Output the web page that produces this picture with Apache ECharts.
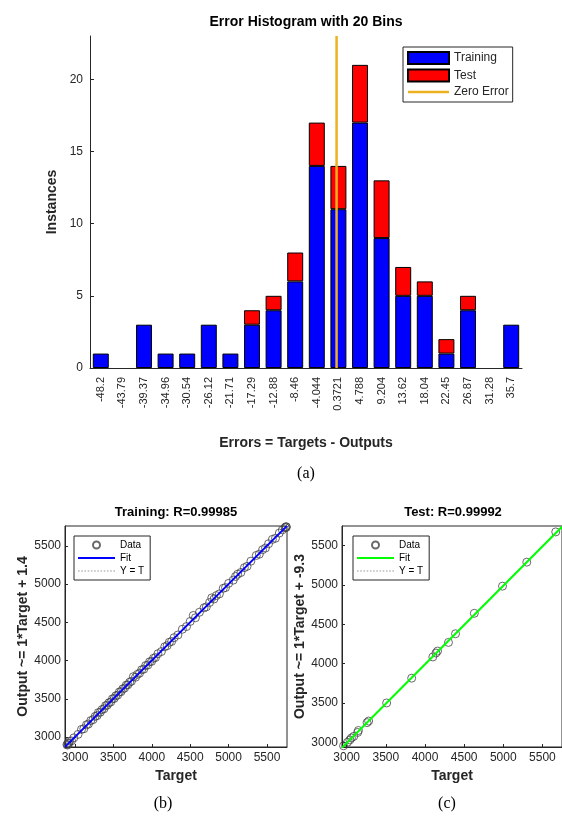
<!DOCTYPE html>
<html>
<head>
<meta charset="utf-8">
<script src="https://cdn.jsdelivr.net/npm/echarts@6/dist/echarts.min.js"></script>
<style>
  html, body { margin: 0; padding: 0; background: #fff; }
  #chart { width: 562px; height: 817px; }
</style>
</head>
<body>
<div id="chart"></div>
<script>
// histogram bins (bin centres are also the tick labels)
const binCenters = ['-48.2', '-43.79', '-39.37', '-34.96', '-30.54', '-26.12', '-21.71', '-17.29', '-12.88', '-8.46',
  '-4.044', '0.3721', '4.788', '9.204', '13.62', '18.04', '22.45', '26.87', '31.28', '35.7'];
const trainingCounts = [1, 0, 3, 1, 1, 3, 1, 3, 4, 6, 14, 11, 17, 9, 5, 5, 1, 4, 0, 3];
const testCounts     = [0, 0, 0, 0, 0, 0, 0, 1, 1, 2, 3, 3, 4, 4, 2, 1, 1, 1, 0, 0];
const zeroError = 0;
const histMax = 23;

// regression: training
const trainTarget = [2895, 2903, 2910, 2918, 2930, 2955, 2985, 3040, 3085, 3115, 3150, 3175, 3205, 3235, 3262, 3288,
  3305, 3330, 3352, 3378, 3398, 3420, 3442, 3465, 3488, 3510, 3532, 3555, 3578, 3600, 3622, 3645, 3668, 3688, 3712,
  3735, 3760, 3788, 3812, 3840, 3868, 3895, 3920, 3948, 3972, 3998, 4022, 4048, 4080, 4125, 4168, 4200, 4228, 4258,
  4290, 4340, 4398, 4452, 4500, 4540, 4568, 4620, 4680, 4710, 4752, 4780, 4810, 4840, 4880, 4930, 4960, 5000, 5060,
  5090, 5118, 5160, 5205, 5240, 5290, 5360, 5400, 5442, 5480, 5520, 5570, 5610, 5660, 5700, 5735, 5742, 5748, 5752];
const trainOutput = [2902, 2895, 2921, 2914, 2945, 2950, 2990, 3035, 3100, 3108, 3160, 3170, 3215, 3228, 3270, 3280,
  3320, 3325, 3360, 3370, 3410, 3418, 3450, 3458, 3500, 3505, 3540, 3548, 3590, 3594, 3630, 3640, 3680, 3683, 3718,
  3730, 3790, 3782, 3820, 3835, 3880, 3888, 3935, 3942, 3985, 3990, 4030, 4040, 4090, 4118, 4180, 4195, 4240, 4250,
  4300, 4335, 4410, 4445, 4512, 4590, 4560, 4632, 4690, 4702, 4760, 4820, 4805, 4850, 4872, 4945, 4955, 5010, 5052,
  5100, 5130, 5152, 5215, 5232, 5300, 5375, 5392, 5450, 5472, 5528, 5585, 5600, 5668, 5710, 5740, 5738, 5752, 5745];
const trainFit = [1, 1.4];         // slope, intercept
const trainLim = [2870, 5760];

// regression: test
const testTarget = [2960, 3010, 3040, 3060, 3090, 3140, 3150, 3260, 3280, 3510, 3830, 4100, 4140, 4160, 4300, 4390,
  4630, 4990, 5300, 5670];
const testOutput = [2955, 3000, 3030, 3055, 3075, 3125, 3150, 3250, 3270, 3500, 3815, 4085, 4135, 4160, 4270, 4380,
  4640, 4985, 5290, 5675];
const testFit = [1, -9.3];
const testLim = [2940, 5750];

const FONT = 'Liberation Sans, Arial, sans-serif';
const SERIF = '16px Liberation Serif, Times New Roman, serif';
const AXIS_COLOR = '#262626';

function pairs(xs, ys) {
  return xs.map((x, i) => [x, ys[i]]);
}
function fitLine(lim, fit) {
  return lim.map(x => [x, fit[0] * x + fit[1]]);
}
// empty bins are left out so no flat bar outline is drawn
function skipEmpty(counts) {
  return counts.map(v => (v === 0 ? '-' : v));
}
// legend icons drawn as flat paths (solid and dotted strokes)
function solidIcon(w, h) {
  return 'path://M0,0H' + w + 'V' + h + 'H0Z';
}
function dottedIcon(w) {
  let p = 'path://';
  for (let i = 0; i + 1.5 <= w; i += 3) {
    p += 'M' + i + ',0H' + (i + 1.5) + 'V1H' + i + 'Z';
  }
  return p;
}

// half bin width, so the zero line sits on a value axis aligned with the bins
const c0 = parseFloat(binCenters[0]);
const cN = parseFloat(binCenters[binCenters.length - 1]);
const halfBin = (cN - c0) / (binCenters.length - 1) / 2;

function regAxis(lim, name, gridIndex, isY, gap) {
  return {
    type: 'value',
    gridIndex: gridIndex,
    min: lim[0],
    max: lim[1],
    splitNumber: 6,
    name: name,
    nameLocation: 'middle',
    nameGap: gap,
    nameTextStyle: { fontFamily: FONT, fontWeight: 'bold', fontSize: 14, color: AXIS_COLOR },
    axisLine: { onZero: false, lineStyle: { color: AXIS_COLOR } },
    axisTick: { inside: true, length: 3, lineStyle: { color: AXIS_COLOR } },
    axisLabel: { fontFamily: FONT, fontSize: 12, color: AXIS_COLOR, margin: isY ? 4 : 5,
      showMinLabel: false, showMaxLabel: false, formatter: v => String(v) },
    splitLine: { show: false }
  };
}

function regLegend(left, names) {
  return {
    left: left, top: 536,
    orient: 'vertical',
    data: [
      { name: names[0], icon: 'circle' },
      { name: names[1], icon: solidIcon(37, 2) },
      { name: names[2], icon: dottedIcon(37) }
    ],
    formatter: n => n.split('_')[0],
    itemWidth: 37, itemHeight: 7, itemGap: 3,
    padding: [4, 6, 4, 4],
    borderColor: AXIS_COLOR, borderWidth: 1, backgroundColor: '#fff',
    textStyle: { fontFamily: FONT, fontSize: 10, color: '#000' }
  };
}

function titleText(x, y, text, font) {
  return { type: 'text', x: x, y: y,
    style: { text: text, font: font, fill: '#000', textAlign: 'center', textVerticalAlign: 'middle' } };
}

const chart = echarts.init(document.getElementById('chart'));

const option = {
  animation: false,
  backgroundColor: '#fff',
  graphic: [
    titleText(306, 22, 'Error Histogram with 20 Bins', 'bold 14px ' + FONT),
    titleText(306, 474, '(a)', SERIF),
    titleText(176, 512, 'Training: R=0.99985', 'bold 13px ' + FONT),
    titleText(453, 512, 'Test: R=0.99992', 'bold 13px ' + FONT),
    titleText(163, 804, '(b)', SERIF),
    titleText(447, 804, '(c)', SERIF)
  ],
  grid: [
    { left: 90, right: 40, top: 36, bottom: 449 },
    { left: 65, top: 526, width: 222, height: 221, show: true, borderColor: AXIS_COLOR, borderWidth: 1 },
    { left: 342, top: 526, width: 221, height: 221, show: true, borderColor: AXIS_COLOR, borderWidth: 1 }
  ],
  legend: [
    {
      left: 403, top: 47,
      orient: 'vertical',
      data: [
        { name: 'Training', icon: 'rect' },
        { name: 'Test', icon: 'rect' },
        { name: 'Zero Error', icon: solidIcon(41, 2.5) }
      ],
      itemWidth: 41, itemHeight: 12, itemGap: 3.5,
      padding: [4, 4, 4, 4],
      borderColor: AXIS_COLOR, borderWidth: 1, backgroundColor: '#fff',
      textStyle: { fontFamily: FONT, fontSize: 12, color: AXIS_COLOR }
    },
    regLegend(74, ['Data_b', 'Fit_b', 'Y = T_b']),
    regLegend(353, ['Data_c', 'Fit_c', 'Y = T_c'])
  ],
  xAxis: [
    {
      type: 'category',
      gridIndex: 0,
      data: binCenters,
      name: 'Errors = Targets - Outputs',
      nameLocation: 'middle',
      nameGap: 68,
      nameTextStyle: { fontFamily: FONT, fontWeight: 'bold', fontSize: 14, color: AXIS_COLOR },
      axisLine: { lineStyle: { color: AXIS_COLOR } },
      axisTick: { inside: true, alignWithLabel: true, length: 3, lineStyle: { color: AXIS_COLOR } },
      axisLabel: { rotate: 90, fontFamily: FONT, fontSize: 11, color: AXIS_COLOR, margin: 9, interval: 0 }
    },
    {
      type: 'value',
      gridIndex: 0,
      show: false,
      min: c0 - halfBin,
      max: cN + halfBin
    },
    regAxis(trainLim, 'Target', 1, false, 22),
    regAxis(testLim, 'Target', 2, false, 22)
  ],
  yAxis: [
    {
      type: 'value',
      gridIndex: 0,
      min: 0, max: histMax, interval: 5,
      name: 'Instances',
      nameLocation: 'middle',
      nameGap: 24,
      nameTextStyle: { fontFamily: FONT, fontWeight: 'bold', fontSize: 14, color: AXIS_COLOR },
      axisLine: { show: true, onZero: false, lineStyle: { color: AXIS_COLOR } },
      axisTick: { show: true, inside: true, length: 4, lineStyle: { color: AXIS_COLOR } },
      axisLabel: { fontFamily: FONT, fontSize: 12, color: AXIS_COLOR, margin: 7, showMaxLabel: false },
      splitLine: { show: false }
    },
    regAxis(trainLim, 'Output ~= 1*Target + 1.4', 1, true, 33),
    regAxis(testLim, 'Output ~= 1*Target + -9.3', 2, true, 14)
  ],
  series: [
    {
      name: 'Training', type: 'bar', stack: 'hist',
      xAxisIndex: 0, yAxisIndex: 0,
      barWidth: '74%',
      itemStyle: { color: '#0000FF', borderColor: '#000', borderWidth: 1 },
      data: skipEmpty(trainingCounts)
    },
    {
      name: 'Test', type: 'bar', stack: 'hist',
      xAxisIndex: 0, yAxisIndex: 0,
      barWidth: '74%',
      itemStyle: { color: '#FF0000', borderColor: '#000', borderWidth: 1 },
      data: skipEmpty(testCounts)
    },
    {
      name: 'Zero Error', type: 'line',
      xAxisIndex: 1, yAxisIndex: 0,
      symbol: 'none',
      color: '#EDB120',
      itemStyle: { color: '#EDB120' },
      lineStyle: { color: '#EDB120', width: 2.5 },
      data: [[zeroError, 0], [zeroError, histMax]],
      z: 5
    },
    // training regression
    {
      name: 'Data_b', type: 'scatter', xAxisIndex: 2, yAxisIndex: 1,
      symbol: 'circle', symbolSize: 8,
      itemStyle: { color: 'rgba(0,0,0,0)', borderColor: '#444', borderWidth: 1 },
      data: pairs(trainTarget, trainOutput), z: 3
    },
    {
      name: 'Fit_b', type: 'line', xAxisIndex: 2, yAxisIndex: 1,
      symbol: 'none', color: '#0000FF',
      itemStyle: { color: '#0000FF' },
      lineStyle: { color: '#0000FF', width: 2 },
      data: fitLine(trainLim, trainFit), z: 4
    },
    {
      name: 'Y = T_b', type: 'line', xAxisIndex: 2, yAxisIndex: 1,
      symbol: 'none', color: '#999',
      itemStyle: { color: '#999' },
      lineStyle: { color: '#999', width: 1, type: 'dotted' },
      data: fitLine(trainLim, [1, 0]), z: 2
    },
    // test regression
    {
      name: 'Data_c', type: 'scatter', xAxisIndex: 3, yAxisIndex: 2,
      symbol: 'circle', symbolSize: 8,
      itemStyle: { color: 'rgba(0,0,0,0)', borderColor: '#444', borderWidth: 1 },
      data: pairs(testTarget, testOutput), z: 3
    },
    {
      name: 'Fit_c', type: 'line', xAxisIndex: 3, yAxisIndex: 2,
      symbol: 'none', color: '#00FF00',
      itemStyle: { color: '#00FF00' },
      lineStyle: { color: '#00FF00', width: 2 },
      data: fitLine(testLim, testFit), z: 4
    },
    {
      name: 'Y = T_c', type: 'line', xAxisIndex: 3, yAxisIndex: 2,
      symbol: 'none', color: '#999',
      itemStyle: { color: '#999' },
      lineStyle: { color: '#999', width: 1, type: 'dotted' },
      data: fitLine(testLim, [1, 0]), z: 2
    }
  ]
};

chart.setOption(option);
window.addEventListener('resize', () => chart.resize());
</script>
</body>
</html>
